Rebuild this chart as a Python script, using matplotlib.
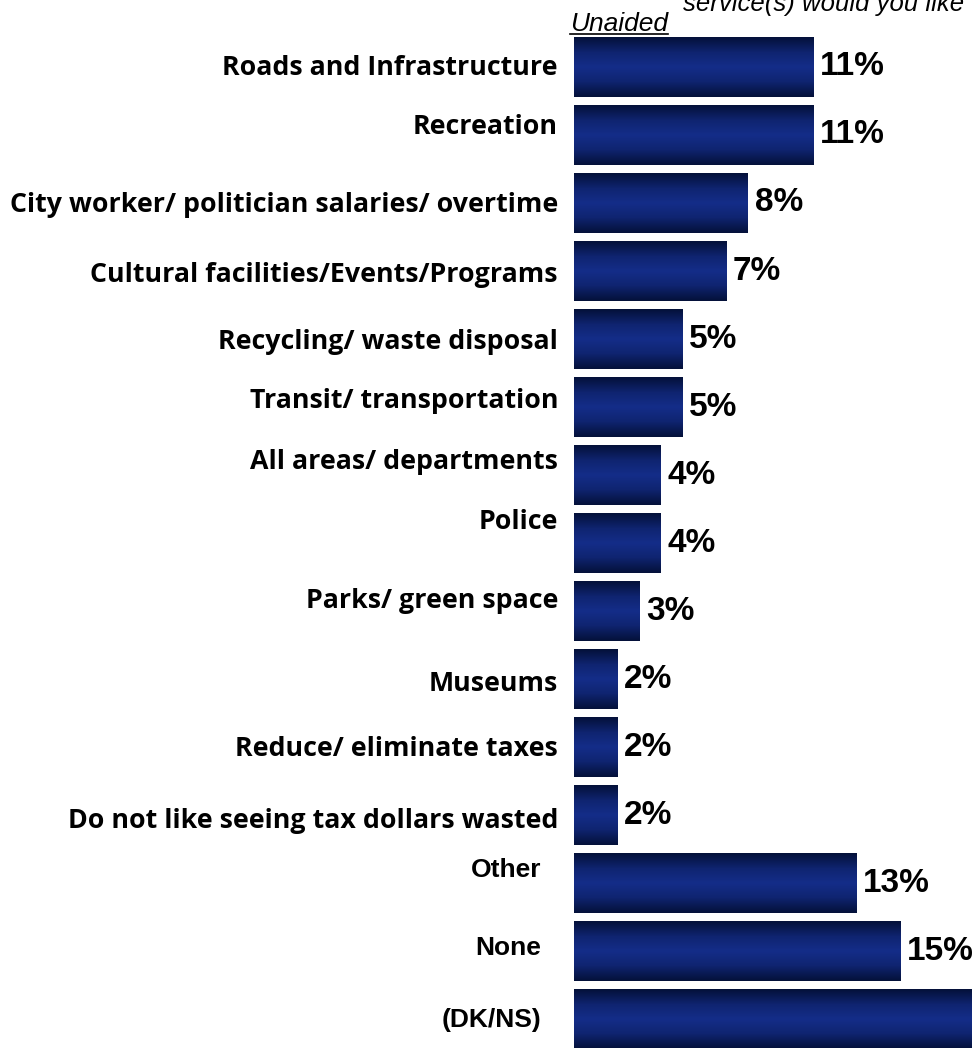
import matplotlib
matplotlib.use('Agg')
import matplotlib.pyplot as plt
import numpy as np
from matplotlib.colors import LinearSegmentedColormap

# survey answers, top to bottom
categories = ['Roads and Infrastructure', 'Recreation',
              'City worker/ politician salaries/ overtime',
              'Cultural facilities/Events/Programs', 'Recycling/ waste disposal',
              'Transit/ transportation', 'All areas/ departments', 'Police',
              'Parks/ green space', 'Museums', 'Reduce/ eliminate taxes',
              'Do not like seeing tax dollars wasted', 'Other', 'None', '(DK/NS)']
values = [11, 11, 8, 7, 5, 5, 4, 4, 3, 2, 2, 2, 13, 15, 21]
value_labels = ['11%', '11%', '8%', '7%', '5%', '5%', '4%', '4%', '3%',
                '2%', '2%', '2%', '13%', '15%', '21%']

# the last three labels use a different font in the original slide
arial_rows = {'Other', 'None', '(DK/NS)'}
# small vertical nudges of the category labels (pixels, + = down)
label_nudge = [1, -8, 2, 4, 3, -6, -13, -21, -10, 5, 2, 6, -13, -3, 1]

W, H = 972, 1048
fig = plt.figure(figsize=(W / 100, H / 100), dpi=100)
ax = fig.add_axes([0, 0, 1, 1])

px_per_pct = 21.75
bar_left_px = 574
row_px = 68
first_row_px = 67
xmax = (W - bar_left_px) / px_per_pct

cmap = LinearSegmentedColormap.from_list(
    'navy', ['#04113a', '#0f2470', '#142d89', '#0f2470', '#04113a'])
grad = np.linspace(0, 1, 64).reshape(-1, 1)

y = np.arange(len(categories))
bars = ax.barh(y, values, height=0.87, color='none', edgecolor='none')
for b in bars:
    x0, y0 = b.get_x(), b.get_y()
    im = ax.imshow(grad, extent=[x0, x0 + b.get_width(), y0 + b.get_height(), y0],
                   cmap=cmap, aspect='auto', interpolation='bilinear')
    im.set_clip_path(b)

for i, (v, lab) in enumerate(zip(values, value_labels)):
    if v + 0.35 > xmax:
        continue  # label falls off the slide, as in the source
    ax.text(v + 0.3, i, lab, ha='left', va='center', fontsize=24,
            fontweight='bold', family='Liberation Sans', color='black')

for i, cat in enumerate(categories):
    yy = i + label_nudge[i] / row_px
    if cat in arial_rows:
        ax.text(-33 / px_per_pct, yy, cat, ha='right', va='center',
                fontsize=19, fontweight='bold', family='Liberation Sans')
    else:
        ax.text(-16 / px_per_pct, yy, cat, ha='right', va='center',
                fontsize=19.3, fontweight='bold', family='Open Sans')

ax.set_xlim(-bar_left_px / px_per_pct, xmax)
ax.set_ylim((H - first_row_px) / row_px, -first_row_px / row_px)
ax.axis('off')

# header pieces, partly cut off at the top like the source slide
fig.text(683 / W, 1 - 11 / H, 'service(s) would you like', ha='left',
         va='baseline', fontsize=18.5, style='italic', family='Liberation Sans')
fig.text(570 / W, 1 - 31 / H, 'Unaided', ha='left', va='baseline',
         fontsize=19, style='italic', family='Liberation Sans')
ax.plot([570 / W, 668 / W], [1 - 34 / H, 1 - 34 / H], transform=fig.transFigure,
        color='black', lw=1.2, clip_on=False)

fig.savefig('out.png', dpi=100)
